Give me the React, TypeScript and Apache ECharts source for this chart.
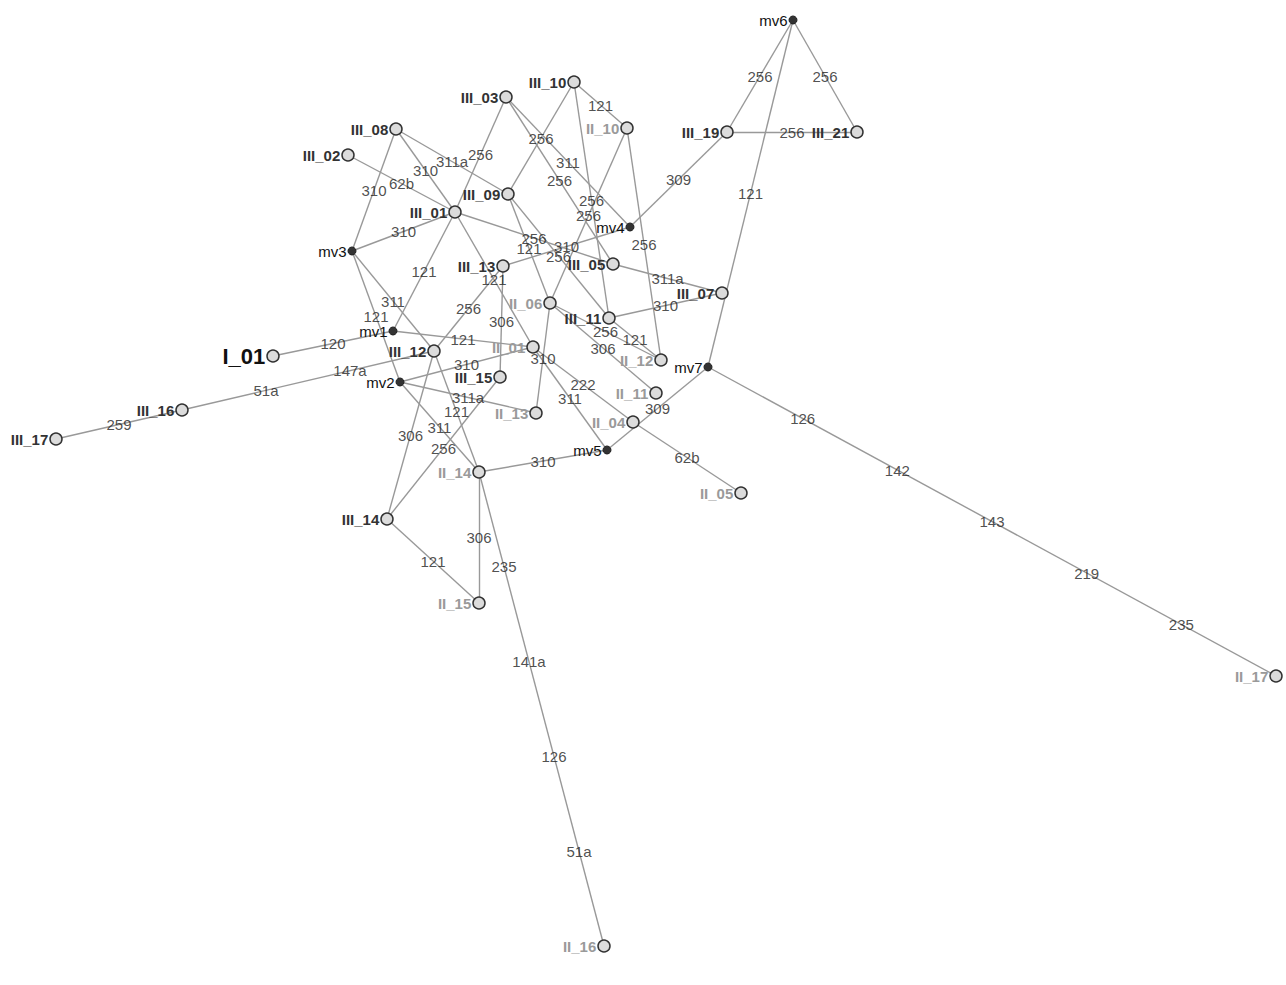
import React, { useEffect, useRef } from "react";
import * as echarts from "echarts";

// Network layout coordinates: [name, x, y]
const medianVectors: [string, number, number][] = [
  ["mv1", 393, 331],
  ["mv2", 400, 382],
  ["mv3", 352, 251],
  ["mv4", 630, 227],
  ["mv5", 607, 450],
  ["mv6", 793, 20],
  ["mv7", 708, 367],
];

const haplotypesIII: [string, number, number][] = [
  ["III_01", 455, 212],
  ["III_02", 348, 155],
  ["III_03", 506, 97],
  ["III_05", 613, 264],
  ["III_07", 722, 293],
  ["III_08", 396, 129],
  ["III_09", 508, 194],
  ["III_10", 574, 82],
  ["III_11", 609, 318],
  ["III_12", 434, 351],
  ["III_13", 503, 266],
  ["III_14", 387, 519],
  ["III_15", 500, 377],
  ["III_16", 182, 410],
  ["III_17", 56, 439],
  ["III_19", 727, 132],
  ["III_21", 857, 132],
];

const haplotypesII: [string, number, number][] = [
  ["II_01", 533, 347],
  ["II_04", 633, 422],
  ["II_05", 741, 493],
  ["II_06", 550, 303],
  ["II_10", 627, 128],
  ["II_11", 656, 393],
  ["II_12", 661, 360],
  ["II_13", 536, 413],
  ["II_14", 479, 472],
  ["II_15", 479, 603],
  ["II_16", 604, 946],
  ["II_17", 1276, 676],
];

const haplotypesI: [string, number, number][] = [["I_01", 273, 356]];

// Links: [source, target, mutations along the link from source to target]
const links: [string, string, string[]][] = [
  ["mv6", "III_19", ["256"]],
  ["mv6", "III_21", ["256"]],
  ["III_19", "III_21", ["256"]],
  ["mv6", "mv7", ["121"]],
  ["III_19", "mv4", ["309"]],
  ["mv7", "mv5", ["309"]],
  ["mv7", "II_17", ["126", "142", "143", "219", "235"]],
  ["III_10", "II_10", ["121"]],
  ["III_10", "III_09", ["256"]],
  ["III_10", "III_11", ["256"]],
  ["II_10", "II_12", ["256"]],
  ["II_10", "II_06", ["256"]],
  ["III_03", "III_01", ["256"]],
  ["III_03", "III_05", ["256"]],
  ["III_03", "mv4", ["311"]],
  ["III_08", "III_01", ["310"]],
  ["III_08", "III_09", ["311a"]],
  ["III_08", "mv3", ["310"]],
  ["III_02", "III_01", ["62b"]],
  ["mv3", "III_01", ["310"]],
  ["III_01", "mv1", ["121"]],
  ["III_01", "II_01", ["121"]],
  ["III_01", "III_05", ["256"]],
  ["III_09", "II_06", ["121"]],
  ["III_09", "III_11", ["256"]],
  ["mv4", "III_13", ["310"]],
  ["III_05", "III_07", ["311a"]],
  ["III_11", "III_07", ["310"]],
  ["III_11", "II_12", ["121"]],
  ["II_06", "II_12", ["256"]],
  ["II_06", "II_11", ["306"]],
  ["II_06", "II_13", ["310"]],
  ["mv3", "III_12", ["311"]],
  ["mv3", "mv2", ["121"]],
  ["I_01", "mv1", ["120"]],
  ["mv1", "II_01", ["121"]],
  ["mv2", "II_01", ["310"]],
  ["mv2", "II_13", ["311a"]],
  ["mv2", "II_14", ["311"]],
  ["III_16", "III_12", ["51a", "147a"]],
  ["III_17", "III_16", ["259"]],
  ["III_12", "III_13", ["256"]],
  ["III_12", "III_14", ["306"]],
  ["III_12", "II_14", ["121"]],
  ["III_13", "III_15", ["306"]],
  ["III_15", "III_14", ["256"]],
  ["III_14", "II_15", ["121"]],
  ["II_14", "II_15", ["306"]],
  ["II_14", "mv5", ["310"]],
  ["II_14", "II_16", ["235", "141a", "126", "51a"]],
  ["II_01", "mv5", ["311"]],
  ["II_01", "II_04", ["222"]],
  ["II_04", "II_05", ["62b"]],
];

const FONT = "'Liberation Sans', Arial, Helvetica, sans-serif";

export default function App() {
  const ref = useRef<HTMLDivElement>(null);

  useEffect(() => {
    const chart = echarts.init(ref.current!, undefined, { renderer: "svg" });

    const pos: Record<string, [number, number]> = {};
    [...medianVectors, ...haplotypesIII, ...haplotypesII, ...haplotypesI].forEach(
      ([n, x, y]) => {
        pos[n] = [x, y];
      }
    );

    const circleStyle = { color: "#dcdcdc", borderColor: "#333", borderWidth: 1.5 };
    const nodes: any[] = [];
    medianVectors.forEach(([n, x, y]) =>
      nodes.push({
        name: n,
        value: [x, y],
        symbolSize: 8,
        itemStyle: { color: "#333", borderColor: "#222", borderWidth: 1 },
        label: { color: "#111", fontSize: 15, fontWeight: "normal" },
      })
    );
    haplotypesIII.forEach(([n, x, y]) =>
      nodes.push({
        name: n,
        value: [x, y],
        symbolSize: 12,
        itemStyle: circleStyle,
        label: { color: "#333", fontSize: 15, fontWeight: "bold" },
      })
    );
    haplotypesII.forEach(([n, x, y]) =>
      nodes.push({
        name: n,
        value: [x, y],
        symbolSize: 12,
        itemStyle: circleStyle,
        label: { color: "#9a9a9a", fontSize: 15, fontWeight: "bold" },
      })
    );
    haplotypesI.forEach(([n, x, y]) =>
      nodes.push({
        name: n,
        value: [x, y],
        symbolSize: 12,
        itemStyle: circleStyle,
        label: { color: "#111", fontSize: 22, fontWeight: "bold" },
      })
    );

    const graphLinks = links.map(([s, t]) => ({ source: s, target: t }));

    // mutation labels spaced evenly along each link
    const mutationPoints: any[] = [];
    links.forEach(([s, t, muts]) => {
      const a = pos[s];
      const b = pos[t];
      const n = muts.length;
      muts.forEach((m, k) => {
        const f = (k + 1) / (n + 1);
        mutationPoints.push({
          value: [a[0] + (b[0] - a[0]) * f, a[1] + (b[1] - a[1]) * f],
          name: m,
        });
      });
    });

    chart.setOption({
      animation: false,
      backgroundColor: "#ffffff",
      textStyle: { fontFamily: FONT },
      grid: { left: 0, right: 0, top: 0, bottom: 0 },
      xAxis: { type: "value", min: 0, max: 1286, show: false },
      yAxis: { type: "value", min: 0, max: 985, inverse: true, show: false },
      series: [
        {
          type: "graph",
          coordinateSystem: "cartesian2d",
          silent: true,
          z: 2,
          data: nodes,
          links: graphLinks,
          edgeSymbol: ["none", "none"],
          lineStyle: { color: "#999", width: 1.4, opacity: 1, curveness: 0 },
          label: {
            show: true,
            position: "left",
            distance: 1,
            fontFamily: FONT,
            formatter: "{b}",
          },
          emphasis: { disabled: true },
        },
        {
          type: "scatter",
          silent: true,
          z: 3,
          symbolSize: 1,
          itemStyle: { color: "rgba(0,0,0,0)" },
          data: mutationPoints,
          label: {
            show: true,
            position: "inside",
            formatter: "{b}",
            color: "#222",
            fontSize: 15,
            fontFamily: FONT,
          },
          emphasis: { disabled: true },
        },
      ],
    });

    return () => chart.dispose();
  }, []);

  return (
    <div
      ref={ref}
      style={{
        position: "fixed",
        left: 0,
        top: 0,
        width: 1286,
        height: 985,
        background: "#fff",
      }}
    />
  );
}
